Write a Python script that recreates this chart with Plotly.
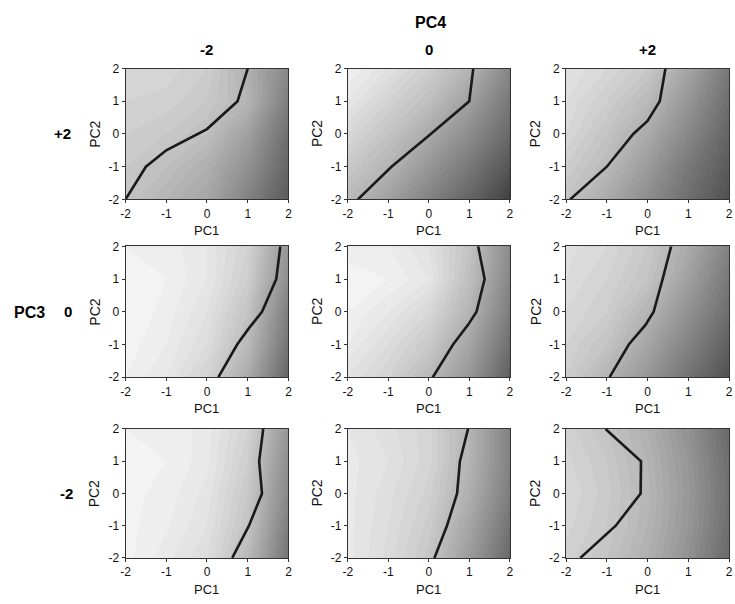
import plotly.graph_objects as go

# Grid of PC1 / PC2 values
grid = [-2, -1, 0, 1, 2]
tick_text = ["-2", "-1", "0", "1", "2"]
pc4_levels = ["-2", "0", "+2"]   # columns
pc3_levels = ["+2", "0", "-2"]   # rows

# Shade surfaces: brightness 0 (black) .. 255 (white); rows PC2 = -2..2, cols PC1 = -2..2
shade_r1c1 = [[195, 180, 165, 130, 90],
              [200, 190, 175, 145, 100],
              [205, 200, 190, 160, 110],
              [210, 208, 200, 180, 125],
              [215, 213, 205, 175, 135]]
shade_r1c2 = [[185, 160, 130, 100, 65],
              [200, 180, 150, 120, 85],
              [215, 195, 170, 140, 105],
              [230, 210, 190, 160, 120],
              [240, 225, 205, 180, 135]]
shade_r1c3 = [[195, 170, 140, 110, 80],
              [205, 185, 155, 120, 90],
              [215, 195, 170, 135, 100],
              [220, 205, 185, 150, 110],
              [225, 215, 200, 165, 120]]
shade_r2c1 = [[240, 230, 210, 170, 100],
              [243, 235, 220, 185, 115],
              [245, 238, 225, 195, 125],
              [245, 240, 230, 205, 140],
              [240, 238, 230, 210, 150]]
shade_r2c2 = [[225, 210, 185, 150, 95],
              [235, 220, 200, 165, 110],
              [240, 230, 215, 180, 125],
              [242, 240, 230, 190, 135],
              [238, 235, 225, 195, 140]]
shade_r2c3 = [[205, 180, 150, 115, 80],
              [210, 195, 165, 130, 95],
              [215, 205, 180, 145, 110],
              [220, 210, 195, 160, 120],
              [222, 215, 200, 170, 130]]
shade_r3c1 = [[242, 232, 220, 185, 115],
              [242, 236, 225, 195, 125],
              [242, 238, 228, 200, 135],
              [242, 240, 232, 205, 140],
              [240, 240, 232, 210, 150]]
shade_r3c2 = [[232, 218, 198, 155, 105],
              [232, 220, 203, 165, 115],
              [232, 222, 208, 175, 125],
              [232, 225, 212, 180, 130],
              [230, 222, 212, 180, 130]]
shade_r3c3 = [[208, 195, 175, 145, 105],
              [212, 200, 180, 150, 110],
              [215, 202, 182, 152, 112],
              [212, 200, 180, 150, 110],
              [208, 195, 175, 145, 105]]

# Boundary lines (PC1, PC2)
line_r1c1_x = [-2.0, -1.5, -1.0, 0.0, 0.75, 1.0]
line_r1c1_y = [-2.0, -1.0, -0.5, 0.15, 1.0, 2.0]
line_r1c2_x = [-1.75, -0.92, 0.05, 1.0, 1.1]
line_r1c2_y = [-2.0, -1.0, 0.0, 1.0, 2.0]
line_r1c3_x = [-1.9, -1.0, -0.35, 0.0, 0.3, 0.44]
line_r1c3_y = [-2.0, -1.0, 0.0, 0.4, 1.0, 2.0]
line_r2c1_x = [0.28, 0.74, 1.03, 1.35, 1.7, 1.8]
line_r2c1_y = [-2.0, -1.0, -0.5, 0.0, 1.0, 2.0]
line_r2c2_x = [0.1, 0.6, 0.97, 1.18, 1.38, 1.22]
line_r2c2_y = [-2.0, -1.0, -0.4, 0.0, 1.0, 2.0]
line_r2c3_x = [-0.93, -0.46, -0.05, 0.15, 0.37, 0.58]
line_r2c3_y = [-2.0, -1.0, -0.4, 0.0, 1.0, 2.0]
line_r3c1_x = [0.62, 1.03, 1.35, 1.28, 1.38]
line_r3c1_y = [-2.0, -1.0, 0.0, 1.0, 2.0]
line_r3c2_x = [0.14, 0.45, 0.7, 0.77, 0.97]
line_r3c2_y = [-2.0, -1.0, 0.0, 1.0, 2.0]
line_r3c3_x = [-1.65, -0.78, -0.17, -0.16, -1.03]
line_r3c3_y = [-2.0, -1.0, 0.0, 1.0, 2.0]

shades = [[shade_r1c1, shade_r1c2, shade_r1c3],
          [shade_r2c1, shade_r2c2, shade_r2c3],
          [shade_r3c1, shade_r3c2, shade_r3c3]]
lines = [[(line_r1c1_x, line_r1c1_y), (line_r1c2_x, line_r1c2_y), (line_r1c3_x, line_r1c3_y)],
         [(line_r2c1_x, line_r2c1_y), (line_r2c2_x, line_r2c2_y), (line_r2c3_x, line_r2c3_y)],
         [(line_r3c1_x, line_r3c1_y), (line_r3c2_x, line_r3c2_y), (line_r3c3_x, line_r3c3_y)]]

W, H = 735, 604
col_px = [(122, 287), (347, 511), (568, 733)]
row_px = [(63, 197), (245, 379), (432, 564)]
FONT = "Arial, Liberation Sans, sans-serif"

fig = go.Figure()
layout = dict(width=W, height=H, margin=dict(l=0, r=0, t=0, b=0),
              paper_bgcolor="white", plot_bgcolor="white", showlegend=False)
annotations = []

k = 0
for r in range(3):
    for c in range(3):
        k += 1
        xa = "x" if k == 1 else f"x{k}"
        ya = "y" if k == 1 else f"y{k}"
        fig.add_trace(go.Contour(
            x=grid, y=grid, z=shades[r][c], xaxis=xa, yaxis=ya,
            colorscale=[[0, "rgb(0,0,0)"], [1, "rgb(255,255,255)"]],
            zmin=0, zmax=255, zauto=False, showscale=False, hoverinfo="skip",
            contours=dict(coloring="fill", showlines=False, start=0, end=255, size=5),
            line=dict(width=0, smoothing=0)))
        lx, ly = lines[r][c]
        fig.add_trace(go.Scatter(x=lx, y=ly, mode="lines", xaxis=xa, yaxis=ya,
                                 line=dict(color="#1a1a1a", width=2.6), hoverinfo="skip"))
        x0, x1 = col_px[c]
        y0, y1 = row_px[r]
        axcommon = dict(range=[-2, 2], tickvals=grid, ticktext=tick_text, ticks="outside",
                        ticklen=3, tickcolor="#333", showline=True, linecolor="#333",
                        linewidth=1, mirror=True, showgrid=False, zeroline=False,
                        tickfont=dict(family=FONT, size=12, color="#111"), fixedrange=True)
        layout["xaxis" if k == 1 else f"xaxis{k}"] = dict(
            axcommon, domain=[x0 / W, x1 / W], anchor=ya)
        layout["yaxis" if k == 1 else f"yaxis{k}"] = dict(
            axcommon, domain=[1 - y1 / H, 1 - y0 / H], anchor=xa)
        # axis titles
        annotations.append(dict(text="PC1", x=(x0 + x1) / 2 / W, y=1 - (y1 + 32) / H,
                                xref="paper", yref="paper", showarrow=False,
                                xanchor="center", yanchor="middle",
                                font=dict(family=FONT, size=13, color="#111")))
        annotations.append(dict(text="PC2", x=(x0 - 31) / W, y=1 - (y0 + y1) / 2 / H,
                                xref="paper", yref="paper", showarrow=False, textangle=-90,
                                xanchor="center", yanchor="middle",
                                font=dict(family=FONT, size=14, color="#111")))

# column headers (PC4)
for c, lab in enumerate(pc4_levels):
    x0, x1 = col_px[c]
    annotations.append(dict(text=f"<b>{lab}</b>", x=(x0 + x1) / 2 / W, y=1 - 43 / H,
                            xref="paper", yref="paper", showarrow=False,
                            xanchor="center", yanchor="middle",
                            font=dict(family=FONT, size=15, color="#000")))
annotations.append(dict(text="<b>PC4</b>", x=431 / W, y=1 - 16 / H, xref="paper", yref="paper",
                        showarrow=False, xanchor="center", yanchor="middle",
                        font=dict(family=FONT, size=16, color="#000")))
# row headers (PC3)
row_label_x = [58, 64, 62]
for r, lab in enumerate(pc3_levels):
    y0, y1 = row_px[r]
    annotations.append(dict(text=f"<b>{lab}</b>", x=row_label_x[r] / W, y=1 - (y0 + y1) / 2 / H,
                            xref="paper", yref="paper", showarrow=False,
                            xanchor="center", yanchor="middle",
                            font=dict(family=FONT, size=15, color="#000")))
annotations.append(dict(text="<b>PC3</b>", x=25 / W, y=1 - 313 / H, xref="paper", yref="paper",
                        showarrow=False, xanchor="center", yanchor="middle",
                        font=dict(family=FONT, size=16, color="#000")))

layout["annotations"] = annotations
fig.update_layout(**layout)
fig.write_html("out.html")
